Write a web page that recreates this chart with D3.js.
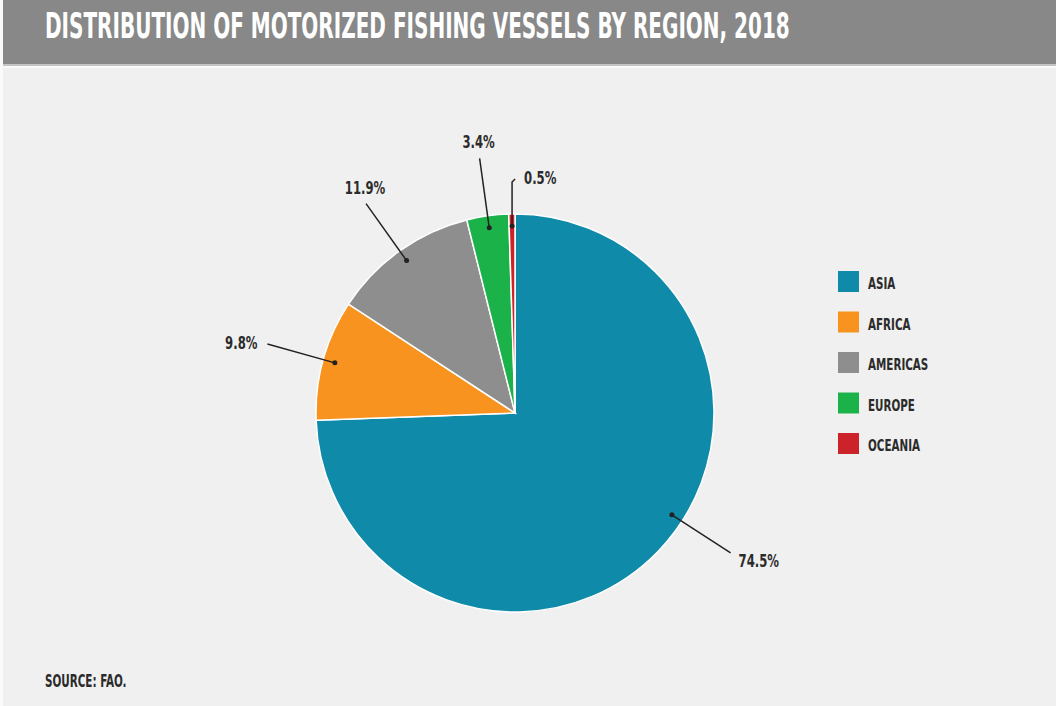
<!DOCTYPE html>
<html>
<head>
<meta charset="utf-8">
<script src="https://cdn.jsdelivr.net/npm/d3@7"></script>
<style>
  body { margin: 0; background: #f0f0f0; }
  svg { display: block; }
  text { font-family: "DejaVu Sans Condensed", "Liberation Sans Narrow", sans-serif; font-weight: bold; }
</style>
</head>
<body>
<svg id="chart" width="1056" height="706"></svg>
<script>
// data
var regions = ["ASIA", "AFRICA", "AMERICAS", "EUROPE", "OCEANIA"];
var shares = [74.5, 9.8, 11.9, 3.4, 0.5];
var colors = ["#0f8aa8", "#f7931e", "#8e8e8e", "#1cb24a", "#cc2229"];
var titleText = "DISTRIBUTION OF MOTORIZED FISHING VESSELS BY REGION, 2018";
var sourceText = "SOURCE: FAO.";

// leader tweak, degrees (asia label sits off the centroid)
var leaderNudge = [-11, 0, 0, 0, 0];

var svg = d3.select("#chart"),
    width = +svg.attr("width"),
    height = +svg.attr("height");

// the original face is very narrow, so squeeze the glyphs sideways
function narrowText(parent, x, y, size, sx, str) {
  return parent.append("text")
      .attr("transform", "translate(" + x + "," + y + ") scale(" + sx + ",1)")
      .attr("font-size", size)
      .attr("fill", "#2b2b2b")
      .text(str);
}

/* SECTION: frame + title */

svg.append("rect").attr("width", width).attr("height", height).attr("fill", "#f0f0f0");
svg.append("rect").attr("x", 0).attr("y", 0).attr("width", 3).attr("height", height).attr("fill", "#fafafa");
svg.append("rect").attr("x", 3).attr("y", 0).attr("width", width - 3).attr("height", 64).attr("fill", "#888888");
svg.append("rect").attr("x", 3).attr("y", 64).attr("width", width - 3).attr("height", 2).attr("fill", "#c4c4c4");
svg.append("rect").attr("x", 3).attr("y", 66).attr("width", width - 3).attr("height", 2).attr("fill", "#fafafa");

var title = narrowText(svg, 45, 38, 35, 1, titleText).attr("fill", "#fff");
var natural = title.node().getComputedTextLength();
title.attr("transform", "translate(45,38) scale(" + (745 / natural) + ",1)");

narrowText(svg, 45, 687, 17, 0.68, sourceText);

/* SECTION: pie */

var cx = 515, cy = 413, radius = 199;
var g = svg.append("g").attr("transform", "translate(" + cx + "," + cy + ")");

var data = regions.map(function(r, i) { return {region: r, value: shares[i], i: i}; });
var pie = d3.pie().sort(null).value(function(d) { return d.value; });
var arcs = pie(data);
var arc = d3.arc().innerRadius(0).outerRadius(radius);

g.selectAll("path.slice").data(arcs).enter().append("path")
    .attr("class", "slice")
    .attr("d", arc)
    .attr("fill", function(d) { return colors[d.data.i]; })
    .attr("stroke", "#fff")
    .attr("stroke-width", 1.5);

function polar(a, r) { return [r * Math.sin(a), -r * Math.cos(a)]; }

var rIn = 187, rOut = 257;

arcs.forEach(function(d) {
  var a = (d.startAngle + d.endAngle) / 2 + leaderNudge[d.data.i] * Math.PI / 180;
  var p0 = polar(a, rIn);
  var label = d3.format(".1f")(d.data.value) + "%";
  var tx, ty, anchor, pts;
  if (d.data.value < 1) {
    // tiny slice: short stem with a hook to the right
    var p1 = [p0[0], -(rIn + 44)];
    pts = [p0, p1, [p1[0] + 3, p1[1] - 3]];
    tx = p1[0] + 12; ty = p1[1] + 2; anchor = "start";
  } else {
    var p1 = polar(a, rOut);
    pts = [p0, p1];
    var deg = (a * 180 / Math.PI) % 360;
    var fromTop = Math.min(deg, 360 - deg);
    if (fromTop < 40) { tx = p1[0] - 1; ty = p1[1] - 10; anchor = "middle"; }
    else if (p1[0] < 0) { tx = p1[0] - 10; ty = p1[1] + 5; anchor = "end"; }
    else { tx = p1[0] + 8; ty = p1[1] + 14; anchor = "start"; }
  }
  g.append("path")
      .attr("d", d3.line()(pts))
      .attr("fill", "none")
      .attr("stroke", "#222")
      .attr("stroke-width", 1.5);
  g.append("circle")
      .attr("cx", p0[0]).attr("cy", p0[1]).attr("r", 2.5)
      .attr("fill", "#222");
  narrowText(g, tx, ty, 18, 0.72, label).attr("text-anchor", anchor);
});

/* SECTION: legend */

var legend = svg.append("g").attr("transform", "translate(838,271)");
var item = legend.selectAll("g").data(regions).enter().append("g")
    .attr("transform", function(d, i) { return "translate(0," + (i * 40.5) + ")"; });
item.append("rect").attr("width", 21).attr("height", 21)
    .attr("fill", function(d, i) { return colors[i]; });
item.each(function(d) { narrowText(d3.select(this), 30, 18, 16, 0.72, d); });
</script>
</body>
</html>
